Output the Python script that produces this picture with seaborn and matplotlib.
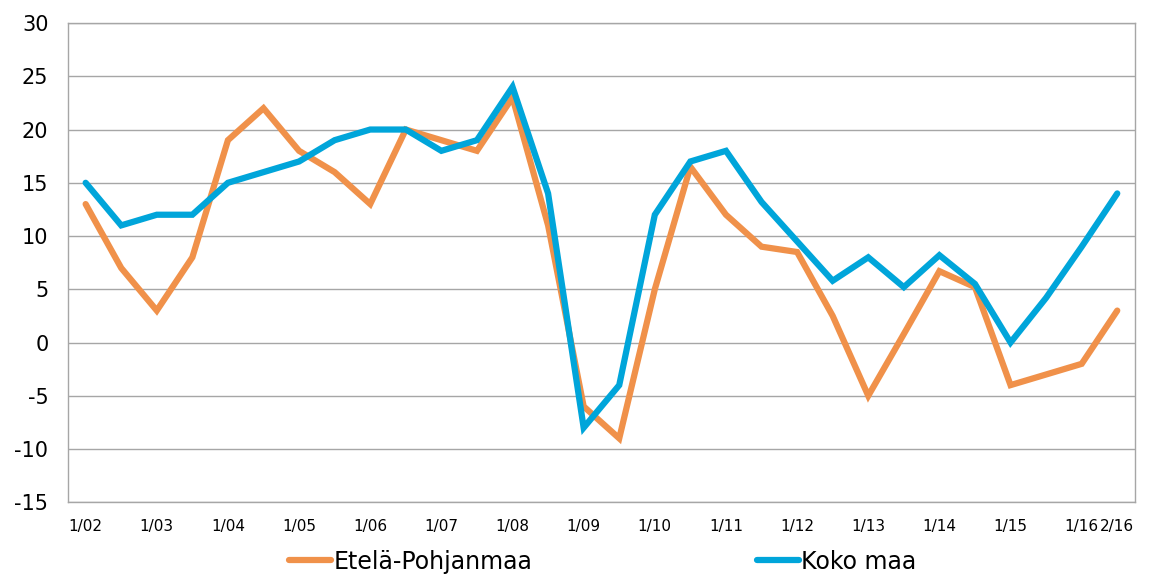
import pandas as pd
import numpy as np
import matplotlib
matplotlib.use('Agg')
import matplotlib.pyplot as plt
import seaborn as sns

## Datos

periods = ['1/02', '7/02', '1/03', '7/03', '1/04', '7/04', '1/05', '7/05', '1/06', '7/06',
           '1/07', '7/07', '1/08', '7/08', '1/09', '7/09', '1/10', '7/10', '1/11', '7/11',
           '1/12', '7/12', '1/13', '7/13', '1/14', '7/14', '1/15', '7/15', '1/16', '2/16']
tick_labels = ['1/02', '1/03', '1/04', '1/05', '1/06', '1/07', '1/08', '1/09', '1/10',
               '1/11', '1/12', '1/13', '1/14', '1/15', '1/16', '2/16']
etela_pohjanmaa = [13, 7, 3, 8, 19, 22, 18, 16, 13, 20,
                   19, 18, 23, 11, -6, -9, 5, 16.5, 12, 9,
                   8.5, 2.5, -5, 0.8, 6.7, 5.2, -4, -3, -2, 3]
koko_maa = [15, 11, 12, 12, 15, 16, 17, 19, 20, 20,
            18, 19, 24, 14, -8, -4, 12, 17, 18, 13.2,
            9.5, 5.8, 8, 5.2, 8.2, 5.5, 0, 4.2, 9, 14]
series_names = ['Etelä-Pohjanmaa', 'Koko maa']
colors = ['#F0914A', '#00A5DA']

df = pd.DataFrame({'Jakso': periods * 2,
                   'Arvo': etela_pohjanmaa + koko_maa,
                   'Sarja': [series_names[0]] * len(periods) + [series_names[1]] * len(periods)})
df['pos'] = df['Jakso'].map({p: i for i, p in enumerate(periods)})

## Kuva

sns.set_style('white')
plt.rcParams['font.family'] = ['DejaVu Sans']
plt.rcParams['axes.unicode_minus'] = False

fig = plt.figure(figsize=(11.5, 5.76), dpi=100)
ax = fig.add_axes([0.059, 0.128, 0.928, 0.832])

sns.lineplot(data=df, x='pos', y='Arvo', hue='Sarja', palette=colors, linewidth=4.5,
             ax=ax, legend=False, solid_capstyle='round', solid_joinstyle='miter')

ax.set_xlim(-0.5, len(periods) - 0.5)
ax.set_ylim(-15, 30)
ax.set_yticks(range(-15, 31, 5))
tick_pos = [periods.index(t) for t in tick_labels]
ax.set_xticks(tick_pos)
ax.set_xticklabels(tick_labels, fontsize=11)
ax.tick_params(axis='y', labelsize=15, pad=14, length=0, labelcolor='black')
ax.tick_params(axis='x', pad=12, length=0, labelcolor='black')
ax.set_xlabel('')
ax.set_ylabel('')
ax.yaxis.grid(True, color='#A6A6A6', linewidth=1)
ax.set_axisbelow(True)
for s in ax.spines.values():
    s.set_color('#A6A6A6')
    s.set_linewidth(1)

handles = [plt.Line2D([], [], color=c, linewidth=4.5, solid_capstyle='round') for c in colors]
leg = fig.legend(handles, series_names, loc='center', bbox_to_anchor=(0.524, 0.025), ncol=2,
                 frameon=False, fontsize=17, handlelength=1.8, handletextpad=0.1, columnspacing=9.5)
for t in leg.get_texts():
    t.set_color('black')

plt.savefig('out.png', dpi=100)
